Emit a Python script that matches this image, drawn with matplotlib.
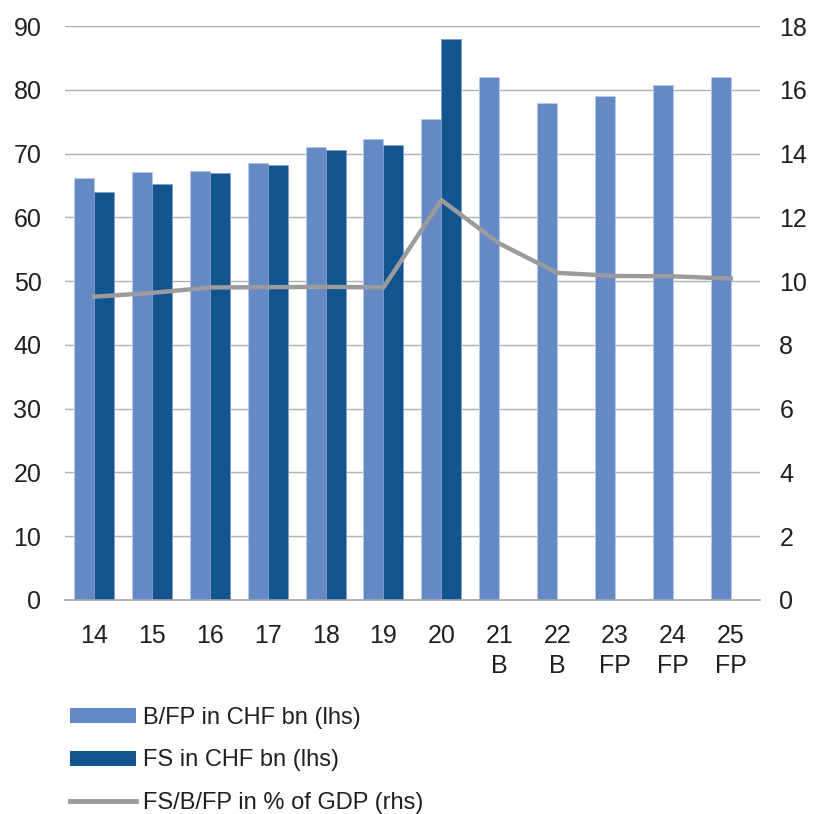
import matplotlib.pyplot as plt
import numpy as np
from matplotlib.patches import Patch
from matplotlib.lines import Line2D

plt.rcParams['font.family'] = ['Liberation Sans', 'DejaVu Sans']

# Federal budget figures, years 2014-2025
years = ["14", "15", "16", "17", "18", "19", "20", "21\nB", "22\nB", "23\nFP", "24\nFP", "25\nFP"]
budget = [66.1, 67.1, 67.2, 68.6, 71.0, 72.3, 75.4, 82.0, 78.0, 79.1, 80.8, 82.0]
accounts = [64.0, 65.2, 66.9, 68.2, 70.5, 71.4, 87.9]
share_gdp = [9.51, 9.63, 9.80, 9.81, 9.82, 9.80, 12.54, 11.18, 10.26, 10.16, 10.15, 10.08]

light = "#6589c4"
dark = "#11548f"
grey = "#9b9b9d"
txt = "#231f20"

fig = plt.figure(figsize=(8.17, 8.14), dpi=100)
ax = fig.add_axes([0.0796, 0.263, 0.8504, 0.705])
ax2 = ax.twinx()

x = np.arange(len(years))
w = 0.345
ax.bar(x - w / 2, budget, w, color=light, edgecolor="#b9cae6", linewidth=0.6, zorder=2)
ax.bar(x[:len(accounts)] + w / 2, accounts, w, color=dark, edgecolor="#7f9fc4", linewidth=0.6, zorder=2)
ax2.plot(x, share_gdp, color=grey, lw=3.2, solid_joinstyle="miter")

ax.set_xlim(-0.5, len(years) - 0.5)
ax.set_ylim(0, 90)
ax2.set_ylim(0, 18)
ax.set_yticks(np.arange(0, 91, 10))
ax2.set_yticks(np.arange(0, 19, 2))
ax.yaxis.grid(True, color="#b0b0b0", lw=1.0, zorder=0)
ax.set_axisbelow(True)

ax.set_xticks(x)
ax.set_xticklabels(years, fontsize=18, color=txt, linespacing=1.33)
for a in (ax, ax2):
    a.tick_params(axis="y", length=0, labelsize=18, labelcolor=txt)
    for s in ("top", "left", "right", "bottom"):
        a.spines[s].set_visible(False)
ax.spines["bottom"].set_visible(True)
ax.spines["bottom"].set_color("#a6a6a6")
ax.spines["bottom"].set_linewidth(1.2)
ax.tick_params(axis="x", length=0, pad=17)
ax.tick_params(axis="y", pad=17)
ax2.tick_params(axis="y", pad=14)

handles = [
    Patch(facecolor=light, edgecolor="none"),
    Patch(facecolor=dark, edgecolor="none"),
    Line2D([0], [0], color=grey, lw=3.5),
]
labels = ["B/FP in CHF bn (lhs)", "FS in CHF bn (lhs)", "FS/B/FP in % of GDP (rhs)"]
fig.legend(handles, labels, loc="upper left", bbox_to_anchor=(0.086, 0.132),
           frameon=False, fontsize=17, handlelength=2.8, handleheight=0.6,
           handletextpad=0.3, labelspacing=0.88, borderpad=0, borderaxespad=0,
           labelcolor=txt)

fig.savefig("out.png", dpi=100)
